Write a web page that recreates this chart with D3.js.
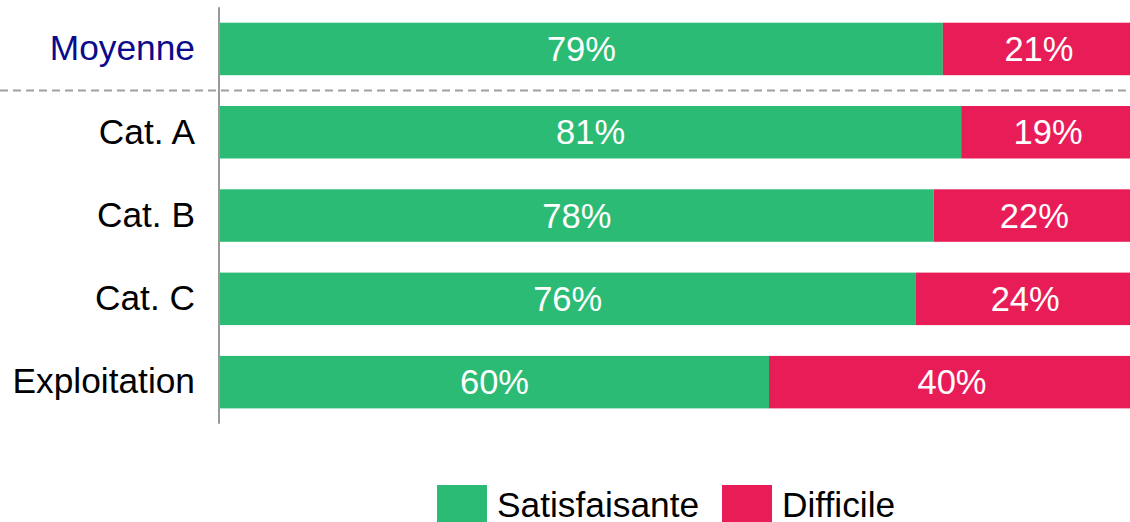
<!DOCTYPE html>
<html>
<head>
<meta charset="utf-8">
<script src="https://cdn.jsdelivr.net/npm/d3@7"></script>
<style>
  html, body { margin: 0; padding: 0; background: #fff; }
  svg { display: block; font-family: "Liberation Sans", Arial, sans-serif; }
</style>
</head>
<body>
<svg id="chart" width="1130" height="522"></svg>
<script>
// Stacked shares per category (percent)
const categories = ["Moyenne", "Cat. A", "Cat. B", "Cat. C", "Exploitation"];
const satisfaisante = [79, 81, 78, 76, 60];
const difficile = [21, 19, 22, 24, 40];
const seriesNames = ["Satisfaisante", "Difficile"];
const seriesColors = ["#2bbb75", "#e81d58"];

const rows = categories.map((c, i) => ({ cat: c, Satisfaisante: satisfaisante[i], Difficile: difficile[i] }));
const stacked = d3.stack().keys(seriesNames)(rows);

const svg = d3.select("#chart");

const x = d3.scaleLinear().domain([0, 100]).range([220, 1135]);
const y = d3.scaleBand().domain(categories).range([7.3, 423.8])
  .paddingInner(0.37).paddingOuter(0.185);
const color = d3.scaleOrdinal().domain(seriesNames).range(seriesColors);

// bars
const layers = svg.append("g").selectAll("g").data(stacked).join("g")
  .attr("fill", d => color(d.key));
layers.selectAll("rect").data(d => d.map(v => ({ v, key: d.key }))).join("rect")
  .attr("x", d => x(d.v[0]))
  .attr("y", d => y(d.v.data.cat))
  .attr("width", d => x(d.v[1]) - x(d.v[0]))
  .attr("height", y.bandwidth());

// value labels
layers.selectAll("text").data(d => d.map(v => ({ v, key: d.key }))).join("text")
  .attr("x", d => (x(d.v[0]) + x(d.v[1])) / 2)
  .attr("y", d => y(d.v.data.cat) + y.bandwidth() / 2)
  .attr("dy", "0.35em")
  .attr("text-anchor", "middle")
  .attr("fill", "#fff")
  .attr("font-size", "34.5px")
  .text(d => (d.v[1] - d.v[0]) + "%");

// separator between average and categories
const sepY = (y("Moyenne") + y.bandwidth() + y("Cat. A")) / 2;
svg.append("line")
  .attr("x1", 0).attr("x2", 1130)
  .attr("y1", sepY).attr("y2", sepY)
  .attr("stroke", "#a0a0a0").attr("stroke-width", 2)
  .attr("stroke-dasharray", "8,5");

// category axis
const yAxis = svg.append("g").attr("transform", "translate(219,0)")
  .call(d3.axisLeft(y).tickSize(0).tickPadding(24));
yAxis.select(".domain").attr("stroke", "#999").attr("stroke-width", 2)
  .attr("d", `M0,${y.range()[0]}V${y.range()[1]}`);
yAxis.selectAll(".tick text")
  .attr("font-size", "35.3px")
  .attr("font-family", "Liberation Sans, Arial, sans-serif")
  .attr("fill", d => d === "Moyenne" ? "#0a0a8c" : "#000");

// legend
const legendItems = [
  { name: seriesNames[0], x: 437, tx: 497 },
  { name: seriesNames[1], x: 722, tx: 782 }
];
const lg = svg.append("g").selectAll("g").data(legendItems).join("g");
lg.append("rect")
  .attr("x", d => d.x).attr("y", 485)
  .attr("width", 50).attr("height", 50)
  .attr("fill", d => color(d.name));
lg.append("text")
  .attr("x", d => d.tx).attr("y", 517)
  .attr("font-size", "35.3px")
  .attr("fill", "#000")
  .text(d => d.name);
</script>
</body>
</html>
